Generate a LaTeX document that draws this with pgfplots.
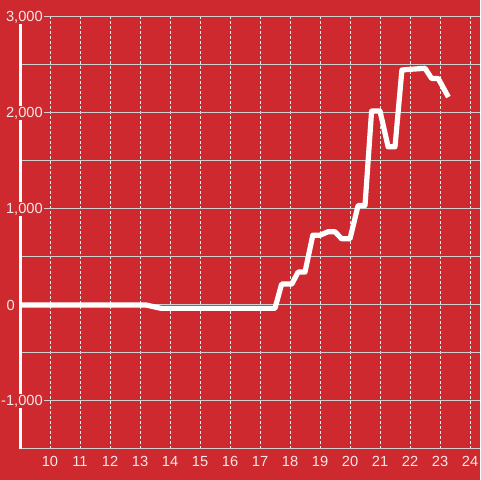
\documentclass[border=0pt]{standalone}
\usepackage{pgfplots}
\pgfplotsset{compat=1.18}
\usepackage{fontspec}
\setmainfont{Liberation Sans}
\definecolor{bg}{RGB}{205,41,46}
\definecolor{hgrid}{RGB}{208,208,208}
\definecolor{vgrid}{RGB}{232,232,232}
\definecolor{lbl}{RGB}{246,232,232}
\begin{document}
\begin{tikzpicture}
\begin{axis}[
  name=ax,
  set layers=standard,
  clip=false,
  scale only axis,
  width=345pt, height=324pt,
  xmin=9, xmax=24.3333,
  ymin=-1500, ymax=3000,
  axis x line*=bottom, axis y line*=left,
  x axis line style={hgrid, line width=0.75pt},
  y axis line style={white, line width=2.25pt},
  major tick length=0pt, minor tick length=0pt,
  xtick={10,11,...,24},
  xticklabels={10,11,12,13,14,15,16,17,18,19,20,21,22,23,24},
  xticklabel style={font=\fontsize{11}{13}\selectfont, text=lbl, inner sep=0pt, yshift=-5.25pt},
  ytick={-1000,1000,2000,3000},
  yticklabels={{-1,000},{1,000},{2,000},{3,000}},
  yticklabel style={font=\fontsize{11}{13}\selectfont, text=lbl, fill=bg, inner sep=1pt, anchor=east, xshift=18.25pt},
  extra y ticks={0},
  extra y tick labels={0},
  extra y tick style={grid=major, yticklabel style={xshift=-21pt}},
  minor ytick={-1500,-500,500,1500,2500},
  xmajorgrids, ymajorgrids, yminorgrids,
  major x grid style={vgrid, line width=0.75pt, dash pattern=on 2.25pt off 1.5pt},
  major y grid style={hgrid, line width=0.75pt},
  minor y grid style={hgrid, line width=0.75pt},
]
\begin{pgfonlayer}{axis background}
\fill[bg] ([xshift=-15pt,yshift=-23.25pt]rel axis cs:0,0) rectangle ([yshift=12.75pt]rel axis cs:1,1);
\end{pgfonlayer}
\addplot[white, line width=3.9pt, line join=round] coordinates {
(9,0) (13.2,0) (13.7,-35) (17.5,-35) (17.72,218) (18.06,218) (18.27,343) (18.5,343)
(18.76,727) (19.0,727) (19.27,763) (19.5,763) (19.72,690) (20.0,690) (20.27,1037) (20.5,1037)
(20.72,2020) (21.0,2020) (21.27,1648) (21.5,1648) (21.73,2448) (22.0,2455) (22.25,2460) (22.5,2466)
(22.72,2360) (22.94,2360) (23.28,2166)
};
\end{axis}
\pgfresetboundingbox
\path ([xshift=-15pt,yshift=-23.25pt]ax.south west) rectangle ([yshift=12.75pt]ax.north east);
\end{tikzpicture}
\end{document}
